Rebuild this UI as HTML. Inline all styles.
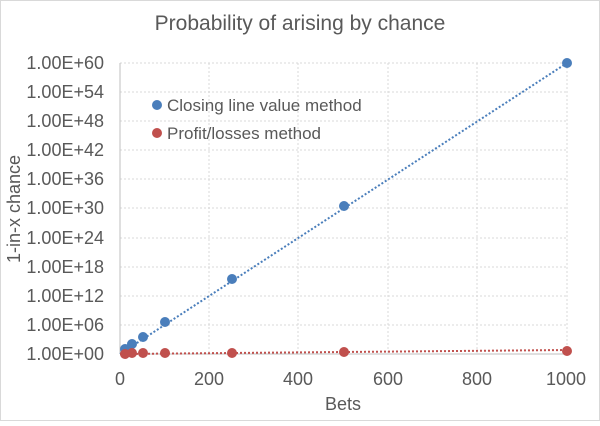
<!DOCTYPE html>
<html><head><style>body{margin:0;background:#fff}</style></head><body>
<svg width="600" height="421" xmlns="http://www.w3.org/2000/svg" font-family="Liberation Sans, sans-serif">
<rect x="0.5" y="0.5" width="599" height="420" fill="#fff" stroke="#d9d9d9"/>
<text x="300" y="30" text-anchor="middle" font-size="21" fill="#595959">Probability of arising by chance</text>
<g stroke="#d9d9d9" stroke-dasharray="2,2" stroke-width="1">
<line x1="120" y1="63" x2="567" y2="63"/><line x1="120" y1="92" x2="567" y2="92"/><line x1="120" y1="121" x2="567" y2="121"/><line x1="120" y1="150" x2="567" y2="150"/><line x1="120" y1="179" x2="567" y2="179"/><line x1="120" y1="208" x2="567" y2="208"/><line x1="120" y1="238" x2="567" y2="238"/><line x1="120" y1="267" x2="567" y2="267"/><line x1="120" y1="296" x2="567" y2="296"/><line x1="120" y1="325" x2="567" y2="325"/>
<line x1="209" y1="63" x2="209" y2="354"/><line x1="298" y1="63" x2="298" y2="354"/><line x1="388" y1="63" x2="388" y2="354"/><line x1="477" y1="63" x2="477" y2="354"/><line x1="567" y1="63" x2="567" y2="354"/>
</g>
<line x1="120" y1="63" x2="120" y2="354" stroke="#bfbfbf"/>
<line x1="120" y1="354" x2="567" y2="354" stroke="#bfbfbf"/>
<g font-size="18" fill="#595959" text-anchor="end">
<text x="104" y="69">1.00E+60</text><text x="104" y="98">1.00E+54</text><text x="104" y="127">1.00E+48</text><text x="104" y="156">1.00E+42</text><text x="104" y="185">1.00E+36</text><text x="104" y="214">1.00E+30</text><text x="104" y="244">1.00E+24</text><text x="104" y="273">1.00E+18</text><text x="104" y="302">1.00E+12</text><text x="104" y="331">1.00E+06</text><text x="104" y="360">1.00E+00</text>
</g>
<g font-size="18" fill="#595959" text-anchor="middle">
<text x="120" y="385">0</text><text x="209" y="385">200</text><text x="298" y="385">400</text><text x="388" y="385">600</text><text x="477" y="385">800</text><text x="566" y="385">1000</text>
<text x="343" y="410">Bets</text>
<text transform="translate(20,209) rotate(-90)">1-in-x chance</text>
</g>
<line x1="120" y1="354" x2="567" y2="63" stroke="#4a7ebb" stroke-width="2" stroke-dasharray="2,2"/>
<line x1="120" y1="354" x2="567" y2="350" stroke="#c0504d" stroke-width="2" stroke-dasharray="2,2"/>
<g fill="#4a7ebb">
<circle cx="125" cy="349" r="5"/><circle cx="132" cy="344" r="5"/><circle cx="143" cy="337" r="5"/><circle cx="165" cy="322" r="5"/><circle cx="232" cy="279" r="5"/><circle cx="344" cy="206" r="5"/><circle cx="567" cy="63" r="5"/>
<circle cx="157" cy="105" r="5"/>
</g>
<g fill="#c0504d">
<circle cx="125" cy="354" r="5"/><circle cx="132" cy="353" r="5"/><circle cx="143" cy="353" r="5"/><circle cx="165" cy="353" r="5"/><circle cx="232" cy="353" r="5"/><circle cx="344" cy="352" r="5"/><circle cx="567" cy="351" r="5"/>
<circle cx="157" cy="133" r="5"/>
</g>
<g font-size="17" fill="#595959">
<text x="167" y="111">Closing line value method</text>
<text x="167" y="139">Profit/losses method</text>
</g>
</svg>
</body></html>
